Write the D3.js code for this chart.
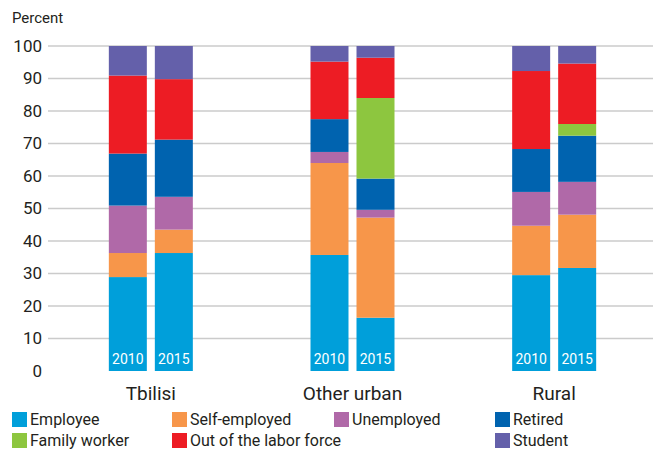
<!DOCTYPE html>
<html>
<head>
<meta charset="utf-8">
<script src="https://cdn.jsdelivr.net/npm/d3@7"></script>
<style>
  html, body { margin: 0; padding: 0; background: #ffffff; }
  svg { display: block; font-family: Roboto, "Noto Sans", sans-serif; }
</style>
</head>
<body>
<svg id="chart" width="653" height="449"></svg>
<script>
// Regions and survey years
const regions = ["Tbilisi", "Other urban", "Rural"];
const years = ["2010", "2015"];

// Labor status categories, bottom to top of each stack
const statuses = ["Employee", "Self-employed", "Unemployed", "Retired", "Family worker", "Out of the labor force", "Student"];
const statusColors = ["#009fda", "#f7964a", "#b069a8", "#0063af", "#8dc63f", "#ed1c24", "#6460aa"];

// Shares (percent) per status, ordered Tbilisi 2010, Tbilisi 2015, Other urban 2010, Other urban 2015, Rural 2010, Rural 2015
const employee     = [28.9, 36.3, 35.7, 16.4, 29.5, 31.7];
const selfEmployed = [7.4, 7.2, 28.3, 30.8, 15.2, 16.4];
const unemployed   = [14.6, 10.1, 3.4, 2.4, 10.4, 10.1];
const retired      = [16.0, 17.6, 10.1, 9.6, 13.2, 14.2];
const familyWorker = [0.0, 0.0, 0.0, 24.8, 0.0, 3.6];
const outOfLabor   = [24.0, 18.6, 17.7, 12.4, 24.0, 18.6];
const student      = [9.1, 10.2, 4.8, 3.6, 7.7, 5.4];

const yTicks = [0, 10, 20, 30, 40, 50, 60, 70, 80, 90, 100];

const seriesValues = [employee, selfEmployed, unemployed, retired, familyWorker, outOfLabor, student];

// Legend slots: four columns, two rows (third column of second row left empty)
const legendSlots = [[0, 0], [1, 0], [2, 0], [3, 0], [0, 1], [1, 1], [3, 1]];

// Build one row per bar
const rows = [];
regions.forEach((r, ri) => {
  years.forEach((yr, yi) => {
    const idx = ri * years.length + yi;
    const row = { region: r, year: yr };
    statuses.forEach((s, si) => { row[s] = seriesValues[si][idx]; });
    rows.push(row);
  });
});

const svg = d3.select("#chart");
const width = 653;
const plotLeft = 48;

const x0 = d3.scaleBand().domain(regions).range([50, 655]);
const x1 = d3.scaleBand().domain(years).range([0, 84]).paddingInner(0.174);
const y = d3.scaleLinear().domain([0, 100]).range([371, 46]);
const color = d3.scaleOrdinal().domain(statuses).range(statusColors);

// Gridlines
svg.append("g")
  .selectAll("line")
  .data(yTicks.filter(t => t > 0))
  .join("line")
  .attr("x1", plotLeft)
  .attr("x2", width)
  .attr("y1", d => y(d))
  .attr("y2", d => y(d))
  .attr("stroke", "#cbcbcb")
  .attr("stroke-width", 1.5);

// Y axis labels
const yAxis = d3.axisLeft(y).tickValues(yTicks).tickSize(0).tickPadding(0);
const yg = svg.append("g").attr("transform", "translate(42,0)").call(yAxis);
yg.select(".domain").remove();
yg.selectAll("text")
  .attr("font-size", 17)
  .attr("fill", "#231f20")
  .attr("font-family", "Roboto, sans-serif");

svg.append("text")
  .attr("x", 12).attr("y", 23)
  .attr("font-size", 15)
  .attr("fill", "#231f20")
  .text("Percent");

// Stacked bars
const stack = d3.stack().keys(statuses);
const layers = stack(rows);

const barLeft = (region, year) => x0(region) + x0.bandwidth() / 2 - 42 + x1(year);

svg.append("g")
  .selectAll("g")
  .data(layers)
  .join("g")
  .attr("fill", d => color(d.key))
  .selectAll("rect")
  .data(d => d)
  .join("rect")
  .attr("x", d => barLeft(d.data.region, d.data.year))
  .attr("width", x1.bandwidth())
  .attr("y", d => y(d[1]))
  .attr("height", d => y(d[0]) - y(d[1]));

// Year labels inside the bars
svg.append("g")
  .selectAll("text")
  .data(rows)
  .join("text")
  .attr("x", d => barLeft(d.region, d.year) + x1.bandwidth() / 2)
  .attr("y", 364)
  .attr("text-anchor", "middle")
  .attr("font-size", 14)
  .attr("fill", "#ffffff")
  .text(d => d.year);

// Region labels
const xAxis = d3.axisBottom(x0).tickSize(0).tickPadding(0);
const xg = svg.append("g").attr("transform", "translate(0,386)").call(xAxis);
xg.select(".domain").remove();
xg.selectAll("text")
  .attr("font-size", 19)
  .attr("fill", "#231f20")
  .attr("dy", "0.71em")
  .attr("font-family", "Roboto, sans-serif");

// Legend
const legendX = [12, 172, 334, 495];
const legendY = [412, 433];
const legend = svg.append("g")
  .selectAll("g")
  .data(statuses)
  .join("g")
  .attr("transform", (d, i) => `translate(${legendX[legendSlots[i][0]]},${legendY[legendSlots[i][1]]})`);
legend.append("rect")
  .attr("width", 15).attr("height", 15)
  .attr("fill", d => color(d));
legend.append("text")
  .attr("x", 18).attr("y", 13)
  .attr("font-size", 16)
  .attr("fill", "#231f20")
  .text(d => d);
</script>
</body>
</html>
